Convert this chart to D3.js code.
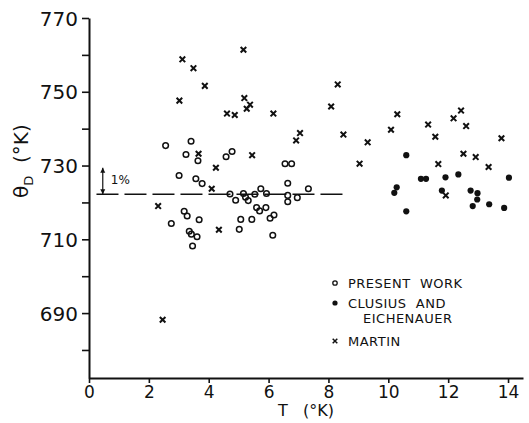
<!DOCTYPE html>
<html>
<head>
<meta charset="utf-8">
<script src="https://cdn.jsdelivr.net/npm/d3@7"></script>
<style>
  body { margin: 0; background: #fff; }
  svg text { font-family: "DejaVu Sans", sans-serif; fill: #111; white-space: pre; }
</style>
</head>
<body>
<svg id="chart"></svg>
<script>
// present work (open circles)
const presentT = [2.56, 3.41, 3.24, 3.64, 3.01, 3.57, 3.78, 4.58, 4.78, 4.71, 4.90, 5.16, 5.23, 5.32,
  5.54, 5.74, 5.93, 5.60, 5.70, 5.91, 6.55, 6.77, 6.64, 6.64, 6.64, 6.96, 7.33, 5.07, 5.44, 6.05,
  6.18, 5.02, 6.14, 3.18, 3.28, 3.68, 2.75, 3.35, 3.42, 3.61, 3.46]
const presentTheta = [735.4, 736.6, 733.0, 731.3, 727.3, 726.4, 725.1, 732.4, 733.8, 722.3, 720.6, 722.4, 721.4, 720.5,
  722.2, 723.7, 722.4, 718.6, 717.7, 718.6, 730.5, 730.5, 725.2, 721.9, 720.2, 721.3, 723.7, 715.4, 715.4, 715.7,
  716.6, 712.7, 711.1, 717.6, 716.3, 715.3, 714.3, 712.2, 711.4, 710.7, 708.2]

// Clusius and Eichenauer (filled dots)
const clusiusT = [10.60, 10.28, 10.20, 10.60, 11.09, 11.26, 11.91, 12.34, 11.79, 12.75, 12.98, 12.97, 12.82, 13.37, 13.87, 14.03]
const clusiusTheta = [732.8, 724.1, 722.6, 717.6, 726.4, 726.4, 726.8, 727.6, 723.2, 723.2, 722.5, 720.8, 719.0, 719.5, 718.5, 726.7]

// Martin (crosses)
const martinT = [3.12, 3.49, 3.87, 3.02, 5.16, 5.19, 5.27, 5.38, 4.61, 4.87, 6.16, 6.92, 7.05, 3.66, 5.45, 4.24, 4.10,
  2.31, 4.34, 2.46, 8.31, 8.09, 8.50, 9.31, 9.04, 10.30, 10.09, 11.33, 11.57, 12.18, 12.43, 12.60, 13.78,
  11.67, 12.51, 12.92, 13.35, 11.92]
const martinTheta = [758.8, 756.4, 751.6, 747.6, 761.4, 748.3, 745.4, 746.5, 744.1, 743.7, 744.1, 736.8, 738.8, 733.2, 732.8, 729.4, 723.7,
  719.0, 712.6, 688.2, 752.0, 746.0, 738.4, 736.3, 730.5, 743.9, 739.7, 741.1, 737.8, 742.8, 744.9, 740.7, 737.4,
  730.4, 733.2, 732.3, 729.6, 721.9]

const xTicks = [0, 2, 4, 6, 8, 10, 12, 14]
const yTicks = [680, 690, 700, 710, 720, 730, 740, 750, 760, 770]
const yLabels = [690, 710, 730, 750, 770]

// mean line and the 1% bar
const meanTheta = 722.2
const meanFrom = 0.25
const meanTo = 8.55
const pctAt = 0.46

const legendItems = [
  { kind: "open", lines: ["PRESENT  WORK"] },
  { kind: "filled", lines: ["CLUSIUS  AND", "EICHENAUER"] },
  { kind: "cross", lines: ["MARTIN"] },
]

const width = 529, height = 423
const svg = d3.select("#chart").attr("width", width).attr("height", height)

const x = d3.scaleLinear().domain([0, 14.5]).range([89, 523])
const y = d3.scaleLinear().domain([672.4, 770]).range([378, 18])

const ink = "#111"

// axes
const yAxis = svg.append("g")
  .attr("transform", `translate(${x(0)},0)`)
  .call(d3.axisLeft(y).tickValues(yTicks).tickSize(7).tickSizeOuter(0).tickPadding(4)
    .tickFormat((d) => (yLabels.includes(d) ? d : "")))
yAxis.selectAll("text").style("font-size", "20px").attr("dy", "0.36em")

const xAxis = svg.append("g")
  .attr("transform", `translate(0,${y(672.4)})`)
  .call(d3.axisBottom(x).tickValues(xTicks).tickSize(5).tickSizeOuter(0).tickPadding(3))
xAxis.selectAll("text").style("font-size", "17px")

svg.selectAll(".domain").attr("stroke", ink).attr("stroke-width", 2)
svg.selectAll(".tick line").attr("stroke", ink).attr("stroke-width", 1.6)

// axis titles
svg.append("text")
  .attr("x", 278).attr("y", 416)
  .style("font-size", "16px")
  .text("T   (°K)")

const yt = svg.append("text")
  .attr("transform", "translate(28,198) rotate(-90)")
  .style("font-size", "20px")
yt.append("tspan").text("θ")
yt.append("tspan").attr("dy", 5).style("font-size", "13px").text("D")
yt.append("tspan").attr("dy", -5).text("  (°K)")

// mean dashed line
svg.append("line")
  .attr("x1", x(meanFrom)).attr("x2", x(meanTo))
  .attr("y1", y(meanTheta)).attr("y2", y(meanTheta))
  .attr("stroke", ink).attr("stroke-width", 1.4)
  .attr("stroke-dasharray", "22,6")

// 1% arrow
const defs = svg.append("defs")
defs.append("marker")
  .attr("id", "ah").attr("viewBox", "0 0 10 10").attr("refX", 10).attr("refY", 5)
  .attr("markerWidth", 5).attr("markerHeight", 7).attr("orient", "auto-start-reverse")
  .attr("markerUnits", "userSpaceOnUse")
  .append("path").attr("d", "M0,0 L10,5 L0,10 z").attr("fill", ink)

svg.append("line")
  .attr("x1", x(pctAt)).attr("x2", x(pctAt))
  .attr("y1", y(meanTheta)).attr("y2", y(meanTheta * 1.01))
  .attr("stroke", ink).attr("stroke-width", 1.2)
  .attr("marker-start", "url(#ah)").attr("marker-end", "url(#ah)")

svg.append("text")
  .attr("x", x(pctAt) + 8).attr("y", 184)
  .style("font-size", "12px")
  .text("1%")

// markers
const crossPath = (s) => `M${-s},${-s}L${s},${s}M${-s},${s}L${s},${-s}`

svg.append("g").selectAll("circle")
  .data(d3.zip(presentT, presentTheta))
  .join("circle")
  .attr("cx", (d) => x(d[0])).attr("cy", (d) => y(d[1]))
  .attr("r", 2.8).attr("fill", "none").attr("stroke", ink).attr("stroke-width", 1.5)

svg.append("g").selectAll("circle")
  .data(d3.zip(clusiusT, clusiusTheta))
  .join("circle")
  .attr("cx", (d) => x(d[0])).attr("cy", (d) => y(d[1]))
  .attr("r", 3.1).attr("fill", ink)

svg.append("g").selectAll("path")
  .data(d3.zip(martinT, martinTheta))
  .join("path")
  .attr("transform", (d) => `translate(${x(d[0])},${y(d[1])})`)
  .attr("d", crossPath(2.8))
  .attr("stroke", ink).attr("stroke-width", 2).attr("fill", "none")

// legend
const legend = svg.append("g").attr("transform", "translate(335,283)")
const rowY = [0, 20, 58]
legendItems.forEach((item, i) => {
  const g = legend.append("g").attr("transform", `translate(0,${rowY[i]})`)
  if (item.kind === "open") {
    g.append("circle").attr("r", 2.2).attr("fill", "none").attr("stroke", ink).attr("stroke-width", 1.3)
  } else if (item.kind === "filled") {
    g.append("circle").attr("r", 2.6).attr("fill", ink)
  } else {
    g.append("path").attr("d", crossPath(2.3)).attr("stroke", ink).attr("stroke-width", 1.5)
  }
  item.lines.forEach((line, j) => {
    g.append("text")
      .attr("x", j === 0 ? 13 : 28).attr("y", 4.5 + j * 15)
      .style("font-size", "13px").style("letter-spacing", "0.5px")
      .text(line)
  })
})
</script>
</body>
</html>
